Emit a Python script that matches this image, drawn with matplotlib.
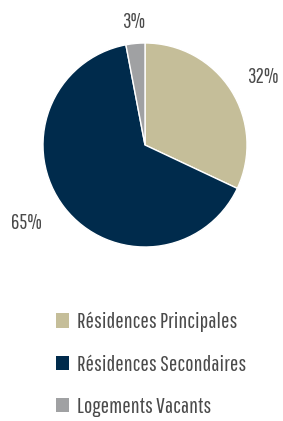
import numpy as np
import matplotlib.pyplot as plt
from matplotlib.patches import Patch

# données
categories = ['Résidences Principales', 'Résidences Secondaires', 'Logements Vacants']
valeurs = [32, 65, 3]
couleurs = ['#C5BE99', '#002B4C', '#A0A1A3']

plt.rcParams['font.family'] = ['Pathway Gothic One', 'DejaVu Sans']

fig = plt.figure(figsize=(2.83, 4.21), dpi=100)
ax = fig.add_axes([43 / 283, 174 / 421, 204 / 283, 204 / 421])

wedges, texts, autotexts = ax.pie(
    valeurs, colors=couleurs, startangle=90, counterclock=False,
    autopct='%d%%', pctdistance=1.34,
    wedgeprops={'edgecolor': 'white', 'linewidth': 1},
    textprops={'fontsize': 15, 'color': '#4a4a4a'})
# placement fin des étiquettes : distance au centre et décalage d'angle
distances = [1.335, 1.39, 1.21]
decalages = [-2.4, -4.3, 0]
for w, t, d, da in zip(wedges, autotexts, distances, decalages):
    a = np.deg2rad((w.theta1 + w.theta2) / 2 + da)
    t.set_position((d * np.cos(a), d * np.sin(a)))

ax.set_xlim(-1, 1)
ax.set_ylim(-1, 1)
ax.set_aspect('equal')
ax.axis('off')

# légende
poignees = [Patch(facecolor=c, edgecolor='none') for c in couleurs]
fig.legend(poignees, categories, loc='upper left', bbox_to_anchor=(36 / 283, 1 - 292 / 421),
           frameon=False, fontsize=16, labelcolor='#4a4a4a', handlelength=0.6, handleheight=0.6,
           handletextpad=0.35, labelspacing=1.0)

fig.savefig('out.png', dpi=100)
